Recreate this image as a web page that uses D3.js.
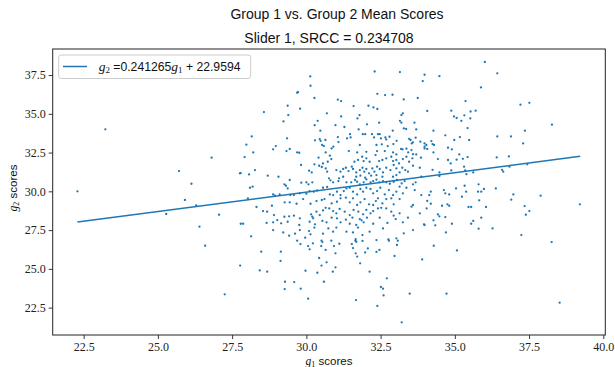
<!DOCTYPE html>
<html><head><meta charset="utf-8">
<script src="https://cdn.jsdelivr.net/npm/d3@7"></script>
<style>body{margin:0;background:#fff}svg{display:block}</style>
</head><body>
<svg id="chart" width="615" height="367"></svg>
<script>
// ---- data ----
const title1 = "Group 1 vs. Group 2 Mean Scores";
const title2 = "Slider 1, SRCC = 0.234708";
const xTicks = [22.5, 25.0, 27.5, 30.0, 32.5, 35.0, 37.5, 40.0];
const yTicks = [22.5, 25.0, 27.5, 30.0, 32.5, 35.0, 37.5];
const fitG1 = [22.29, 39.22];
const fitG2 = [28.02, 32.26];
const g1 = [
23.23,22.29,25.71,26.81,27.79,26.13,25.91,26.29,25.28,27.06,26.40,26.59,27.79,27.77,27.25,
34.29,35.07,34.72,38.26,38.53,33.90,
28.48,29.14,29.13,28.43,28.68,29.28,29.59,29.27,29.81,30.06,29.69,29.80,30.06,30.22,30.11,30.51,30.54,30.50,30.65,30.93,30.84,31.11,30.98,30.43,30.68,30.51,30.98,30.89,30.37,29.97,30.59,31.53,31.65,31.68,31.89,31.57,31.66,31.71,31.98,32.07,31.81,32.13,32.36,32.46,32.78,33.05,33.08,32.97,32.71,32.51,32.58,32.60,31.67,32.39,33.21,33.48,
33.98,34.07,34.28,34.77,34.90,35.15,34.43,34.77,34.86,35.06,35.27,35.43,36.41,36.82,34.25,34.48,34.48,34.88,35.31,35.35,35.39,35.62,36.59,36.63,36.84,37.44,34.14,34.19,34.63,34.68,34.81,35.04,35.33,35.38,35.80,35.78,35.89,35.98,36.38,35.24,34.07,34.19,34.57,34.75,34.81,35.82,35.46,35.55,36.05,34.05,36.90,36.97,37.89,39.21,37.35,37.39,37.51,34.43,34.48,34.68,35.89,34.28,34.34,33.98,34.90,35.55,35.62,35.80,36.27,34.70,37.24,
34.48,36.01,36.43,35.88,35.36,37.21,37.51,34.88,34.97,35.06,35.32,35.53,35.70,35.52,35.22,35.43,38.27,34.28,34.68,34.98,35.17,35.48,36.43,36.89,37.36,37.30,34.21,34.25,34.30,
30.13,30.14,32.30,33.15,33.98,33.92,29.72,29.69,30.27,32.39,32.65,32.90,29.37,28.57,29.39,29.79,31.06,31.17,31.59,32.09,32.26,32.39,33.28,33.75,34.07,30.69,31.17,31.79,31.72,33.20,33.25,29.23,30.38,30.28,30.98,31.28,32.04,32.45,33.15,33.20,33.64,30.47,31.76,33.28,33.36,33.70,28.16,29.35,30.29,30.45,30.48,30.64,31.06,31.08,31.37,31.47,31.49,31.90,31.98,32.21,32.28,32.41,32.47,32.51,32.66,32.69,32.91,32.80,33.04,33.46,33.51,33.55,33.59,33.68,33.84,33.98,27.98,28.97,30.53,30.59,30.91,31.80,32.36,32.54,32.74,32.93,33.98,34.04,33.24,33.37,
28.88,29.33,29.44,29.69,29.76,30.65,30.85,31.43,31.71,32.02,32.38,32.64,32.92,33.03,33.19,33.43,33.54,33.59,28.21,
27.92,30.41,30.79,30.84,30.27,30.56,30.72,31.62,31.74,31.88,31.93,32.02,32.13,32.33,32.45,32.56,32.69,32.86,32.92,33.03,33.12,33.25,33.37,33.57,33.70,33.86,33.46,29.82,
28.27,28.07,28.70,30.09,30.18,30.43,30.52,30.65,30.70,31.01,31.15,31.24,31.33,31.42,31.53,31.57,31.68,31.80,31.89,31.95,32.02,32.11,32.22,32.29,32.38,32.47,32.58,32.69,32.83,32.94,33.03,33.14,33.23,33.33,33.42,33.59,33.82,33.87,32.36,32.56,31.68,31.82,31.98,32.18,32.92,33.03,27.76,
29.06,29.26,29.31,29.44,29.37,28.10,28.19,29.83,30.00,30.07,30.20,30.76,30.81,31.08,30.90,31.10,31.24,31.35,31.51,31.64,31.71,31.80,31.93,32.02,32.16,32.25,32.36,32.45,32.58,32.69,32.81,32.94,33.05,33.21,33.31,33.59,33.68,
28.88,28.94,29.10,29.46,29.58,29.78,30.00,30.11,30.25,30.36,30.56,30.70,30.79,30.90,31.03,31.15,31.26,31.35,31.46,31.57,31.71,31.82,31.91,32.02,32.16,32.25,32.38,32.49,32.64,32.78,32.92,33.03,33.14,33.25,33.37,33.65,33.87,
28.03,28.32,28.84,29.27,29.44,29.67,29.89,30.14,30.34,30.52,30.61,30.65,30.85,31.03,31.15,31.33,31.46,31.57,31.71,31.82,31.96,32.11,32.25,32.34,32.41,32.56,32.69,32.86,32.94,33.14,33.54,33.59,32.41,32.52,32.69,
28.54,28.68,28.91,29.26,29.42,29.58,29.78,30.16,30.20,30.34,30.45,30.56,30.77,30.90,31.01,31.12,31.29,31.46,31.59,31.75,31.91,32.02,32.16,32.25,32.86,32.94,33.14,33.82,
27.87,28.66,28.88,29.02,29.15,29.37,29.76,30.11,30.23,30.29,30.54,30.68,30.85,31.03,31.15,31.33,31.46,31.55,31.68,31.80,31.86,31.93,32.04,32.25,32.47,32.73,33.01,33.25,33.42,33.96,
28.14,28.88,29.22,29.42,29.62,29.78,29.96,30.09,30.14,30.27,30.56,30.74,30.90,31.01,31.35,31.57,31.66,31.74,31.89,32.13,32.36,32.58,32.76,33.03,33.28,33.59
];
const g2 = [
34.00,30.00,31.31,32.17,31.18,30.49,29.44,29.10,28.54,28.49,27.72,26.49,27.91,25.21,23.36,
26.49,26.19,23.40,26.73,22.82,25.61,
26.11,26.11,25.51,24.90,24.82,24.17,24.15,23.70,23.72,23.08,26.82,26.60,26.47,26.65,26.26,26.82,26.73,26.47,26.22,26.47,26.82,26.62,26.00,25.70,25.42,25.21,25.10,24.82,24.75,24.88,24.17,26.60,26.82,26.75,26.80,26.34,26.00,25.79,26.06,26.32,25.36,24.82,26.09,26.22,26.82,26.54,26.82,25.83,24.39,23.83,23.72,23.29,22.99,22.61,21.55,23.40,
32.77,32.73,32.51,32.81,32.71,32.38,32.08,32.02,31.80,32.04,32.10,32.21,32.19,32.25,31.39,31.22,30.99,31.35,31.59,31.35,31.11,31.22,31.39,31.27,31.59,31.74,29.76,29.98,30.08,29.87,29.80,30.19,30.36,29.98,30.45,29.98,29.98,30.15,30.19,29.65,29.38,29.20,29.07,29.16,29.07,29.42,28.99,28.99,28.99,28.90,29.46,29.80,29.72,29.16,29.05,28.49,28.73,28.51,28.39,28.34,28.30,28.13,27.81,27.83,27.91,27.91,28.09,27.59,27.61,27.35,27.18,
37.43,38.34,37.61,36.70,35.82,35.59,35.71,35.20,34.83,34.73,34.90,35.15,35.20,34.70,34.55,34.08,34.30,33.91,33.61,33.31,33.50,33.31,33.54,33.54,33.91,33.09,33.24,33.05,32.99,
37.41,36.81,37.73,37.69,37.52,37.11,36.40,36.36,36.02,36.29,36.21,36.23,35.52,35.11,34.92,35.33,35.91,35.82,35.50,35.52,35.41,35.31,35.93,36.02,35.18,35.03,34.83,34.92,34.70,34.92,35.03,34.51,34.55,34.27,34.27,34.15,34.32,34.43,34.55,34.43,34.43,33.91,33.99,34.06,34.02,33.99,33.54,33.42,33.29,33.37,33.26,33.31,33.50,33.18,33.42,33.69,33.48,33.69,33.69,33.69,33.48,33.69,33.69,33.41,33.48,33.35,33.91,33.52,33.26,33.39,33.31,33.09,33.16,33.46,33.20,33.09,33.01,32.92,32.99,32.92,32.88,32.99,32.99,33.03,32.92,33.05,32.88,32.99,32.71,32.75,
32.71,32.60,32.73,32.51,32.49,32.51,32.77,32.60,32.51,32.55,32.60,32.60,32.51,32.38,32.73,32.51,32.66,32.40,32.51,
32.21,32.17,32.30,32.08,31.74,31.80,31.91,31.91,32.02,32.23,31.95,32.13,31.91,32.34,31.95,32.02,32.13,32.23,31.95,32.02,31.80,32.08,32.23,32.13,32.38,32.17,31.91,31.70,
31.37,31.09,31.01,31.33,31.22,31.65,31.57,31.48,31.27,31.37,31.27,31.44,31.52,31.31,31.59,31.44,31.22,31.37,31.52,31.27,31.44,31.16,31.48,31.27,31.59,31.44,31.22,31.52,31.37,31.70,31.48,31.22,31.52,31.37,31.27,31.65,31.52,30.94,31.05,30.94,30.94,31.01,30.88,31.01,30.94,31.05,31.16,
30.94,30.45,30.36,30.73,30.19,30.23,30.30,30.56,30.58,30.45,30.58,30.84,30.71,30.66,30.58,30.84,30.94,30.58,30.58,30.73,30.62,30.45,30.58,30.77,30.58,30.66,30.75,30.58,30.66,30.58,30.49,30.62,30.73,30.51,30.66,30.45,30.58,
29.80,29.72,29.80,29.76,29.76,29.87,29.85,30.02,29.98,30.06,30.23,30.28,29.80,29.76,29.98,29.76,30.02,30.19,30.23,29.98,29.80,30.15,29.98,30.23,30.15,29.87,30.02,30.23,29.80,30.08,29.76,29.98,30.30,29.87,30.23,30.08,29.76,
29.55,28.99,29.07,29.29,29.29,29.20,29.50,29.20,29.37,29.44,29.50,28.94,29.22,29.33,29.55,29.59,29.29,29.55,29.12,29.29,29.50,29.16,29.12,29.37,29.55,29.22,29.50,29.55,29.16,29.50,29.01,29.12,28.90,28.94,28.90,
28.73,28.69,28.47,28.36,28.39,28.43,28.26,28.52,28.36,28.69,28.47,28.77,28.90,28.73,28.58,28.86,28.69,28.47,28.80,28.69,28.52,28.80,28.58,28.73,28.69,28.43,28.58,28.58,
27.91,27.96,28.00,28.15,27.94,28.04,27.83,28.04,28.26,27.87,28.09,28.00,28.30,28.26,28.00,28.17,27.91,28.30,27.83,28.21,28.13,28.00,28.30,27.91,28.30,27.96,28.21,28.00,28.30,27.87,
27.10,27.50,27.35,27.14,27.27,27.50,27.01,27.44,27.23,27.66,27.27,27.61,27.40,27.66,27.40,27.35,26.92,27.66,27.18,27.40,26.86,27.61,26.90,26.97,27.29,27.50
];

// ---- layout ----
const W = 615, H = 367;
const M = {left: 52.7, right: 605.3, top: 49, bottom: 335};
const color = "#1f77b4";
const svg = d3.select("#chart");
svg.append("rect").attr("width", W).attr("height", H).attr("fill", "#fff");

const x = d3.scaleLinear().domain([21.457, 40.067]).range([M.left, M.right]);
const y = d3.scaleLinear().domain([20.735, 39.18]).range([M.bottom, M.top]);

const tickFont = "'Liberation Serif','Times New Roman',serif";
const sansFont = "'Liberation Sans',Arial,sans-serif";

// points
const pts = g1.map((v, i) => [v, g2[i]]);
svg.append("g").selectAll("circle").data(pts).join("circle")
  .attr("cx", d => x(d[0])).attr("cy", d => y(d[1]))
  .attr("r", 1.15).attr("fill", color);

// regression line
svg.append("path")
  .datum(fitG1.map((v, i) => [v, fitG2[i]]))
  .attr("d", d3.line().x(d => x(d[0])).y(d => y(d[1])))
  .attr("stroke", color).attr("stroke-width", 1.5).attr("fill", "none");

// axes
const xAxis = svg.append("g").attr("transform", `translate(0,${M.bottom})`)
  .call(d3.axisBottom(x).tickValues(xTicks).tickFormat(d3.format(".1f")).tickSize(4).tickSizeOuter(0));
const yAxis = svg.append("g").attr("transform", `translate(${M.left},0)`)
  .call(d3.axisLeft(y).tickValues(yTicks).tickFormat(d3.format(".1f")).tickSize(4).tickSizeOuter(0));
[xAxis, yAxis].forEach(a => {
  a.select(".domain").remove();
  a.selectAll("line").attr("stroke", "#222").attr("stroke-width", 0.9);
  a.selectAll("text").attr("font-family", tickFont).attr("font-size", 12).attr("fill", "#222");
});
xAxis.selectAll("text").attr("dy", null).attr("y", 16);
yAxis.selectAll("text").attr("x", -7);

// frame
svg.append("rect").attr("x", M.left).attr("y", M.top)
  .attr("width", M.right - M.left).attr("height", M.bottom - M.top)
  .attr("fill", "none").attr("stroke", "#222").attr("stroke-width", 1);

// titles
svg.append("text").attr("x", 337).attr("y", 19).attr("text-anchor", "middle")
  .attr("font-family", sansFont).attr("font-size", 14).attr("fill", "#111").text(title1);
svg.append("text").attr("x", 329).attr("y", 43).attr("text-anchor", "middle")
  .attr("font-family", sansFont).attr("font-size", 14).attr("fill", "#111").text(title2);

// axis labels
const xl = svg.append("text").attr("x", 329).attr("y", 364.5).attr("text-anchor", "middle")
  .attr("font-size", 11.5).attr("fill", "#111");
xl.append("tspan").attr("font-family", tickFont).attr("font-style", "italic").text("g");
xl.append("tspan").attr("font-family", tickFont).attr("font-size", 8).attr("dy", 2).text("1");
xl.append("tspan").attr("font-family", sansFont).attr("dy", -2).text(" scores");

const yl = svg.append("text").attr("transform", "translate(17,188) rotate(-90)").attr("text-anchor", "middle")
  .attr("font-size", 11.5).attr("fill", "#111");
yl.append("tspan").attr("font-family", tickFont).attr("font-style", "italic").text("g");
yl.append("tspan").attr("font-family", tickFont).attr("font-size", 8).attr("dy", 2).text("2");
yl.append("tspan").attr("font-family", sansFont).attr("dy", -2).text(" scores");

// legend
const lg = svg.append("g");
lg.append("rect").attr("x", 58.7).attr("y", 55).attr("width", 192).attr("height", 23.5)
  .attr("rx", 2.5).attr("fill", "#fff").attr("fill-opacity", 0.8)
  .attr("stroke", "#cccccc").attr("stroke-width", 1);
lg.append("line").attr("x1", 63).attr("x2", 87).attr("y1", 66.5).attr("y2", 66.5)
  .attr("stroke", color).attr("stroke-width", 1.5);
const lt = lg.append("text").attr("x", 98.7).attr("y", 71).attr("font-size", 12.2).attr("fill", "#111");
lt.append("tspan").attr("font-family", tickFont).attr("font-style", "italic").attr("font-size", 13.5).text("g");
lt.append("tspan").attr("font-family", tickFont).attr("font-size", 9).attr("dy", 2).text("2");
lt.append("tspan").attr("font-family", sansFont).attr("dy", -2).text(" =0.241265");
lt.append("tspan").attr("font-family", tickFont).attr("font-style", "italic").attr("font-size", 13.5).text("g");
lt.append("tspan").attr("font-family", tickFont).attr("font-size", 9).attr("dy", 2).text("1");
lt.append("tspan").attr("font-family", sansFont).attr("dy", -2).text(" + 22.9594");
</script>
</body></html>
